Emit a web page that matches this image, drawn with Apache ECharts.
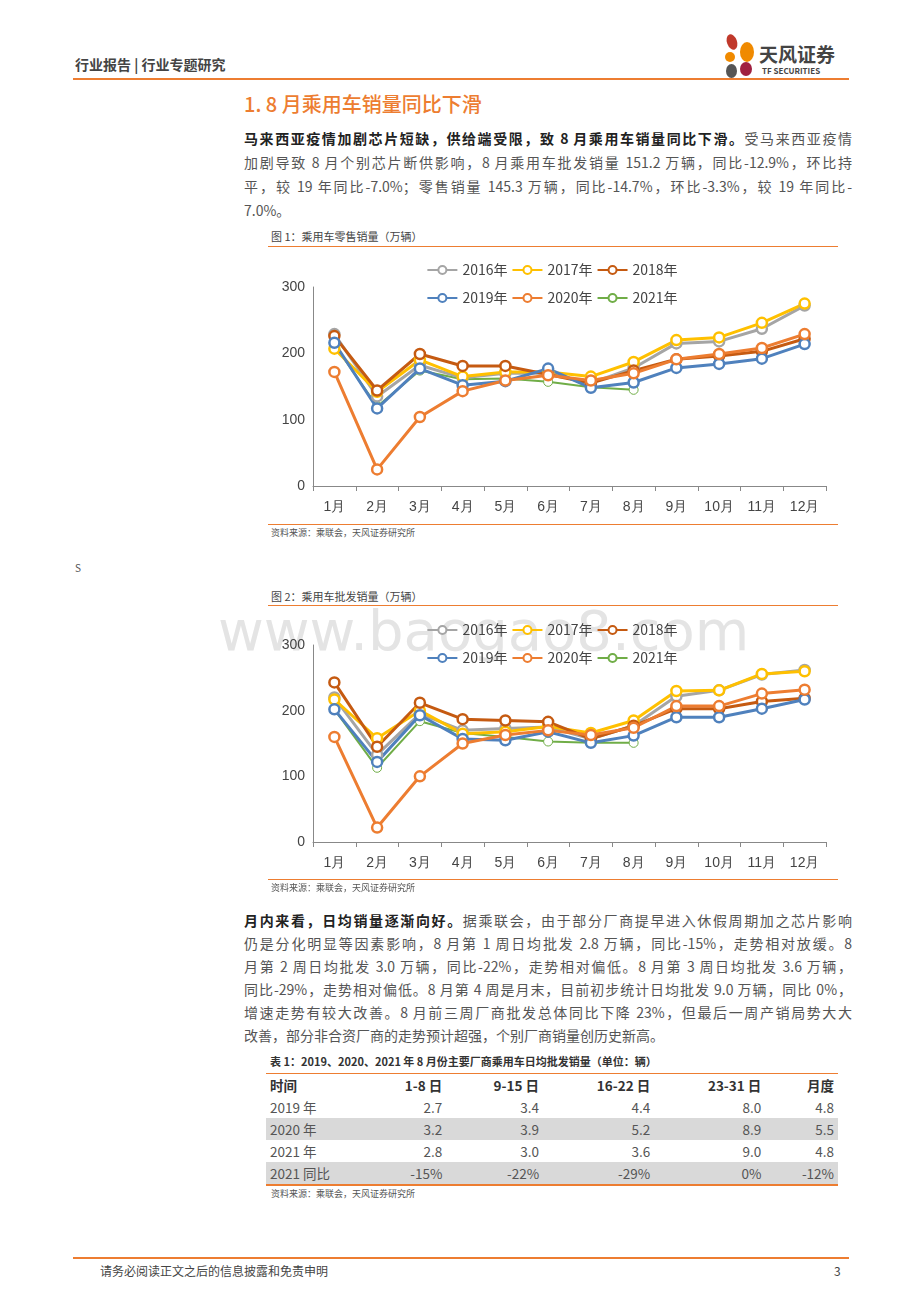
<!DOCTYPE html>
<html><head><meta charset="utf-8">
<script src="https://cdn.jsdelivr.net/npm/echarts@6/dist/echarts.min.js"></script>
<style>
body{margin:0;width:920px;height:1302px;position:relative;background:#fff;font-family:"Noto Sans CJK SC","Noto Sans",sans-serif;color:#333;overflow:hidden}
.a{position:absolute;white-space:nowrap}
.ln{position:absolute;left:244px;width:608px;font-size:14px;text-align:justify;text-align-last:justify;white-space:nowrap;color:#555}
.ln b{color:#222}
.hr{position:absolute;height:0}
table{border-collapse:collapse;font-size:13.5px;color:#555}
td{height:22px;padding:0 4px;text-align:right}
td:first-child{text-align:left}
.g td{background:#d9d9d9}
</style></head><body>
<div class="a" style="left:75px;top:54px;font-size:14px;font-weight:bold;color:#444">行业报告 | 行业专题研究</div>
<div class="hr" style="left:73px;top:78px;width:776px;border-top:2px solid #ED7D31"></div>
<div class="a" style="left:727px;top:34px;width:10px;height:16px;border-radius:50%;background:#C0392B;transform:rotate(-20deg)"></div>
<div class="a" style="left:740px;top:42px;width:14px;height:20px;border-radius:50%;background:#F08A00"></div>
<div class="a" style="left:725px;top:52px;width:10px;height:10px;border-radius:50%;background:#F08A00"></div>
<div class="a" style="left:740px;top:62px;width:12px;height:14px;border-radius:50%;background:#A02040"></div>
<div class="a" style="left:726px;top:64px;width:11px;height:14px;border-radius:50%;background:#555"></div>
<div class="a" style="left:759px;top:40px;font-size:19px;font-weight:bold;color:#444">天风证券</div>
<div class="a" style="left:762px;top:65px;font-size:8px;font-weight:bold;color:#444">TF SECURITIES</div>
<div class="a" style="left:244px;top:89px;font-size:20px;color:#ED7D31;font-weight:500">1. 8 月乘用车销量同比下滑</div>
<div class="ln" style="top:128px"><b>马来西亚疫情加剧芯片短缺，供给端受限，致 8 月乘用车销量同比下滑。</b>受马来西亚疫情</div>
<div class="ln" style="top:152px">加剧导致 8 月个别芯片断供影响，8 月乘用车批发销量 151.2 万辆，同比-12.9%，环比持</div>
<div class="ln" style="top:176px">平，较 19 年同比-7.0%；零售销量 145.3 万辆，同比-14.7%，环比-3.3%，较 19 年同比-</div>
<div class="ln" style="top:200px;text-align-last:left">7.0%。</div>

<div class="a" style="left:271px;top:228px;font-size:11px;color:#444">图 1：乘用车零售销量（万辆）</div>
<div class="hr" style="left:268px;top:246px;width:570px;border-top:1px solid #ED7D31"></div>
<div id="c1" class="a" style="left:262px;top:250px;width:580px;height:270px"></div>
<div class="hr" style="left:268px;top:524px;width:570px;border-top:1px solid #ED7D31"></div>
<div class="a" style="left:271px;top:526px;font-size:9px;color:#555">资料来源：乘联会，天风证券研究所</div>
<div class="a" style="left:75px;top:560px;font-size:10px;color:#555">S</div>

<div class="a" style="left:271px;top:588px;font-size:11px;color:#444">图 2：乘用车批发销量（万辆）</div>
<div class="hr" style="left:268px;top:605px;width:570px;border-top:1px solid #ED7D31"></div>
<div class="a" style="left:218px;top:598px;font-size:56px;color:#e4e4e4;font-family:'DejaVu Sans',sans-serif">www.baogao8.com</div>
<div id="c2" class="a" style="left:262px;top:610px;width:580px;height:270px"></div>
<div class="hr" style="left:268px;top:879px;width:570px;border-top:1px solid #ED7D31"></div>
<div class="a" style="left:271px;top:881px;font-size:9px;color:#555">资料来源：乘联会，天风证券研究所</div>

<div class="ln" style="top:910px"><b>月内来看，日均销量逐渐向好。</b>据乘联会，由于部分厂商提早进入休假周期加之芯片影响</div>
<div class="ln" style="top:933px">仍是分化明显等因素影响，8 月第 1 周日均批发 2.8 万辆，同比-15%，走势相对放缓。8</div>
<div class="ln" style="top:956px">月第 2 周日均批发 3.0 万辆，同比-22%，走势相对偏低。8 月第 3 周日均批发 3.6 万辆，</div>
<div class="ln" style="top:979px">同比-29%，走势相对偏低。8 月第 4 周是月末，目前初步统计日均批发 9.0 万辆，同比 0%，</div>
<div class="ln" style="top:1002px">增速走势有较大改善。8 月前三周厂商批发总体同比下降 23%，但最后一周产销局势大大</div>
<div class="ln" style="top:1025px;text-align-last:left">改善，部分非合资厂商的走势预计超强，个别厂商销量创历史新高。</div>

<div class="a" style="left:270px;top:1053px;font-size:11px;font-weight:bold;color:#333">表 1：2019、2020、2021 年 8 月份主要厂商乘用车日均批发销量（单位：辆）</div>
<div class="a" style="left:266px;top:1073px;width:572px;border-top:1px solid #ED7D31;border-bottom:2px solid #ED7D31">
<table style="width:572px">
<tr style="font-weight:bold;color:#333"><td style="width:90px">时间</td><td>1-8 日</td><td>9-15 日</td><td>16-22 日</td><td>23-31 日</td><td>月度</td></tr>
<tr><td>2019 年</td><td>2.7</td><td>3.4</td><td>4.4</td><td>8.0</td><td>4.8</td></tr>
<tr class="g"><td>2020 年</td><td>3.2</td><td>3.9</td><td>5.2</td><td>8.9</td><td>5.5</td></tr>
<tr><td>2021 年</td><td>2.8</td><td>3.0</td><td>3.6</td><td>9.0</td><td>4.8</td></tr>
<tr class="g"><td>2021 同比</td><td>-15%</td><td>-22%</td><td>-29%</td><td>0%</td><td>-12%</td></tr>
</table></div>
<div class="a" style="left:271px;top:1187px;font-size:9px;color:#555">资料来源：乘联会，天风证券研究所</div>

<div class="hr" style="left:73px;top:1257px;width:776px;border-top:2px solid #ED7D31"></div>
<div class="a" style="left:100px;top:1262px;font-size:12px;color:#444">请务必阅读正文之后的信息披露和免责申明</div>
<div class="a" style="left:834px;top:1262px;font-size:12px;color:#444">3</div>

<script>
const months=['1月','2月','3月','4月','5月','6月','7月','8月','9月','10月','11月','12月'];
const names=['2016年','2017年','2018年','2019年','2020年','2021年'];
const colors=['#A5A5A5','#FFC000','#C55A11','#4F81BD','#ED7D31','#70AD47'];
const retail2016=[229,135,182,163,170,170,155,178,215,218,237,272];
const retail2017=[207,142,190,165,172,172,165,187,220,224,246,275];
const retail2018=[226,144,199,181,181,168,155,174,191,196,203,222];
const retail2019=[216,117,177,152,158,177,148,156,178,184,192,214];
const retail2020=[172,25,104,143,159,167,159,170,191,199,208,229];
const retail2021=[213,120,174,161,162,157,149,145];
const whole2016=[220,133,195,170,173,175,157,177,222,231,255,262];
const whole2017=[217,158,200,165,168,176,166,185,230,231,256,260];
const whole2018=[243,145,212,187,185,183,157,177,203,203,214,219];
const whole2019=[202,122,193,157,155,168,151,162,190,190,203,217];
const whole2020=[160,22,100,150,163,170,163,174,207,207,226,232];
const whole2021=[202,113,184,166,160,153,151,151];
function mk(id,data,top,bottom,legTop){
  const c=echarts.init(document.getElementById(id));
  const ls={fontSize:14,color:'#444',fontFamily:'Noto Sans CJK SC'};
  c.setOption({animation:false,
    legend:[{data:names.slice(0,3),top:legTop[0],left:'center',itemGap:4,itemWidth:30,itemHeight:10,textStyle:ls},
            {data:names.slice(3),top:legTop[1],left:'center',itemGap:4,itemWidth:30,itemHeight:10,textStyle:ls}],
    grid:{left:51,right:16,top:top,bottom:bottom},
    xAxis:{type:'category',data:months,axisLine:{lineStyle:{color:'#888'}},axisTick:{show:true,lineStyle:{color:'#888'}},axisLabel:{fontSize:14,color:'#444',margin:14}},
    yAxis:{type:'value',min:0,max:300,interval:100,splitLine:{show:false},axisLine:{show:true,lineStyle:{color:'#888'}},axisLabel:{fontSize:14,color:'#444'}},
    series:data.map((d,i)=>({name:names[i],type:'line',data:d,symbol:'circle',symbolSize:i==5?9:10,
      lineStyle:{width:i==5?2:3,color:colors[i]},itemStyle:{color:'#fff',borderColor:colors[i],borderWidth:i==5?1:2.5},z:i==5?1:2}))
  });
}
mk('c1',[retail2016,retail2017,retail2018,retail2019,retail2020,retail2021],37,34,[8,36]);
mk('c2',[whole2016,whole2017,whole2018,whole2019,whole2020,whole2021],35,38,[8,36]);
</script></body></html>
